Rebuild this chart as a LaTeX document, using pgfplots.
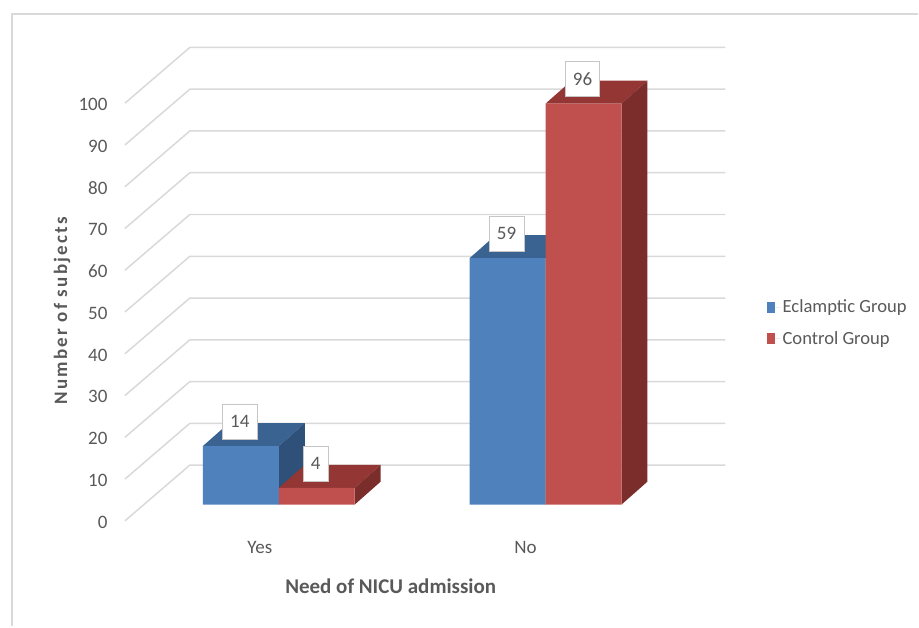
\documentclass[border=0pt]{standalone}
\usepackage{fontspec}
\setmainfont{Carlito}
\usepackage{pgfplots}
\pgfplotsset{compat=1.18}
\definecolor{txt}{HTML}{595959}
\definecolor{gridc}{HTML}{D9D9D9}
\definecolor{bfront}{HTML}{4F81BD}
\definecolor{btop}{HTML}{3A6391}
\definecolor{bside}{HTML}{2F5079}
\definecolor{rfront}{HTML}{C0504D}
\definecolor{rtop}{HTML}{933634}
\definecolor{rside}{HTML}{7A2D2B}
\begin{document}
\begin{tikzpicture}
\begin{axis}[
  x=1pt, y=4.18pt,
  xmin=0, xmax=919, ymin=-29.19, ymax=120.81,
  axis line style={draw=none},
  tick style={draw=none},
  major tick length=0pt,
  clip=false,
  ytick={0,10,...,100},
  /pgf/number format/assume math mode=true,
  yticklabel style={font=\fontsize{19}{22}\selectfont, text=txt, anchor=east, xshift=111pt, yshift=-17.5pt},
  xtick={260,526},
  xticklabels={Yes,No},
  xticklabel style={font=\fontsize{19}{22}\selectfont, text=txt, anchor=center, yshift=79pt},
  xlabel={Need of NICU admission},
  every axis x label/.style={at={(axis description cs:0.4255,0.0638)}, anchor=center, font=\bfseries\fontsize{21}{24}\selectfont, text=txt},
  ylabel={Number of subjects},
  every axis y label/.style={at={(axis description cs:0.0675,0.504)}, anchor=center, rotate=90, font=\bfseries\fontsize{19}{22}\selectfont\addfontfeature{LetterSpace=12}, text=txt},
  legend style={at={(axis cs:764,43.5)}, anchor=west, draw=none, fill=none, font=\fontsize{18.6}{22}\selectfont, text=txt, row sep=13pt},
  legend cell align=left,
  every node near coord/.append style={font=\fontsize{19}{22}\selectfont, text=txt, draw=gray!45, fill=white, anchor=center, yshift=24.5pt, xshift=-1pt, inner xsep=7.5pt, minimum height=35pt},
]
% grid (front diagonal + back wall)
\pgfplotsinvokeforeach{0,10,...,100}{
  \addplot[gridc, line width=1.5pt, forget plot] coordinates {(125,#1-3.9) (190,#1+9.45) (726,#1+9.45)};
}
% Yes - Eclamptic
\addplot[fill=btop, draw=none, forget plot] coordinates {(203,14) (279,14) (305,19.5) (229,19.5)} -- cycle;
\addplot[fill=bside, draw=none, forget plot] coordinates {(279,0) (279,14) (305,19.5) (305,5.5)} -- cycle;
% No - Eclamptic
\addplot[fill=btop, draw=none, forget plot] coordinates {(470,59) (546,59) (572,64.5) (496,64.5)} -- cycle;
\addplot[fill=bside, draw=none, forget plot] coordinates {(546,0) (546,59) (572,64.5) (572,5.5)} -- cycle;
\addplot[ybar, bar width=76, bar shift=0pt, fill=bfront, draw=none, nodes near coords,
  legend image code/.code={\fill[bfront] (0pt,-5.5pt) rectangle (8pt,5.5pt); \path (0pt,0pt) -- (14pt,0pt);}]
  coordinates {(241,14) (508,59)};
\addlegendentry{Eclamptic Group}
% Control
\addplot[fill=rtop, draw=none, forget plot] coordinates {(279,4) (355,4) (381,9.5) (305,9.5)} -- cycle;
\addplot[fill=rside, draw=none, forget plot] coordinates {(355,0) (355,4) (381,9.5) (381,5.5)} -- cycle;
\addplot[fill=rtop, draw=none, forget plot] coordinates {(546,96) (622,96) (648,101.5) (572,101.5)} -- cycle;
\addplot[fill=rside, draw=none, forget plot] coordinates {(622,0) (622,96) (648,101.5) (648,5.5)} -- cycle;
\addplot[ybar, bar width=76, bar shift=0pt, fill=rfront, draw=none, nodes near coords,
  legend image code/.code={\fill[rfront] (0pt,-5.5pt) rectangle (8pt,5.5pt); \path (0pt,0pt) -- (14pt,0pt);}]
  coordinates {(317,4) (584,96)};
\addlegendentry{Control Group}
% frame
\draw[gridc, line width=1.5pt] (rel axis cs:0.01306,0) -- (rel axis cs:0.01306,0.97767) -- (rel axis cs:1,0.97767);
\end{axis}
\end{tikzpicture}
\end{document}
